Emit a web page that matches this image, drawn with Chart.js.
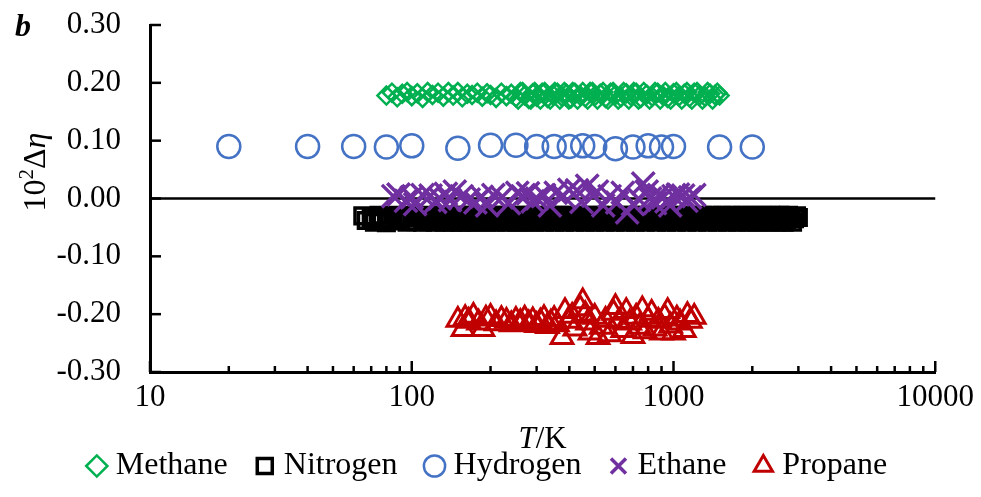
<!DOCTYPE html>
<html>
<head>
<meta charset="utf-8">
<title>Viscosity deviations vs temperature</title>
<script src="https://cdn.jsdelivr.net/npm/chart.js@4.4.1/dist/chart.umd.min.js"></script>
<style>
  html, body { margin: 0; padding: 0; background: #fff; }
  canvas { display: block; }
</style>
</head>
<body>
<canvas id="devChart" width="981" height="497"></canvas>
<script>
// [T/K, 10^2 Δη]
const methane = [
    [80, 0.178], [84, 0.183], [88, 0.175], [92, 0.181], [96, 0.184], [100, 0.177], [105, 0.182], [110, 0.174],
    [115, 0.184], [120, 0.179], [126, 0.183], [132, 0.176], [138, 0.184], [144, 0.178], [150, 0.184], [156, 0.175],
    [163, 0.181], [170, 0.179], [178, 0.183], [186, 0.176], [194, 0.182], [200, 0.179], [210, 0.174], [220, 0.183],
    [230, 0.177], [240, 0.181], [250, 0.175], [255, 0.171], [260, 0.184], [265, 0.184], [270, 0.178], [280, 0.172],
    [285, 0.171], [290, 0.182], [295, 0.184], [300, 0.176], [310, 0.171], [315, 0.183], [322, 0.184], [330, 0.174],
    [338, 0.171], [345, 0.180], [352, 0.184], [360, 0.183], [368, 0.171], [375, 0.176], [383, 0.184], [390, 0.181],
    [398, 0.171], [405, 0.173], [412, 0.184], [420, 0.183], [430, 0.171], [440, 0.178], [450, 0.184], [460, 0.175],
    [470, 0.171], [480, 0.184], [490, 0.184], [500, 0.177], [512, 0.171], [525, 0.181], [538, 0.184], [550, 0.174],
    [562, 0.171], [575, 0.183], [588, 0.184], [600, 0.179], [615, 0.171], [630, 0.175], [645, 0.184], [660, 0.182],
    [675, 0.171], [690, 0.177], [705, 0.184], [720, 0.183], [735, 0.171], [750, 0.174], [770, 0.184], [790, 0.180],
    [810, 0.171], [830, 0.176], [850, 0.184], [870, 0.183], [890, 0.171], [910, 0.178], [930, 0.184], [950, 0.174],
    [975, 0.171], [1000, 0.182], [1025, 0.184], [1050, 0.177], [1075, 0.171], [1100, 0.181], [1125, 0.184], [1150, 0.175],
    [1175, 0.171], [1200, 0.183], [1230, 0.184], [1260, 0.178], [1290, 0.171], [1320, 0.176], [1350, 0.184], [1380, 0.181],
    [1410, 0.171], [1440, 0.179], [1470, 0.183], [1500, 0.178]
];
const nitrogen = [
    [65, -0.030], [67, -0.038], [70, -0.033], [72, -0.041], [75, -0.029], [77, -0.037], [80, -0.042], [82, -0.034],
    [85, -0.029], [88, -0.039], [90, -0.035], [93, -0.030], [96, -0.041], [100, -0.034], [102, -0.029], [104, -0.040],
    [108, -0.031], [110, -0.041], [112, -0.036], [116, -0.040], [118, -0.029], [120, -0.033], [123, -0.041], [125, -0.037],
    [128, -0.029], [130, -0.030], [133, -0.041], [135, -0.039], [138, -0.029], [140, -0.034], [143, -0.041], [145, -0.037],
    [148, -0.029], [150, -0.032], [153, -0.041], [156, -0.040], [159, -0.029], [162, -0.035], [165, -0.041], [168, -0.031],
    [172, -0.029], [175, -0.038], [178, -0.041], [182, -0.034], [186, -0.029], [190, -0.036], [194, -0.041], [198, -0.032],
    [202, -0.029], [206, -0.039], [210, -0.041], [215, -0.034], [220, -0.029], [225, -0.037], [230, -0.041], [235, -0.031],
    [240, -0.029], [245, -0.036], [250, -0.041], [255, -0.040], [260, -0.029], [265, -0.033], [272, -0.041], [280, -0.037],
    [285, -0.029], [290, -0.031], [295, -0.041], [300, -0.035], [308, -0.029], [315, -0.039], [322, -0.041], [330, -0.033],
    [338, -0.029], [345, -0.036], [352, -0.041], [360, -0.031], [368, -0.029], [375, -0.038], [383, -0.041], [390, -0.034],
    [400, -0.029], [410, -0.036], [420, -0.041], [430, -0.032], [440, -0.029], [450, -0.039], [460, -0.041], [470, -0.034],
    [480, -0.029], [490, -0.037], [500, -0.041], [510, -0.031], [522, -0.029], [535, -0.036], [548, -0.041], [560, -0.039],
    [572, -0.029], [585, -0.033], [598, -0.041], [610, -0.036], [625, -0.029], [640, -0.031], [655, -0.041], [670, -0.038],
    [685, -0.029], [700, -0.034], [715, -0.041], [730, -0.036], [745, -0.029], [760, -0.032], [780, -0.041], [800, -0.038],
    [820, -0.029], [840, -0.034], [860, -0.041], [880, -0.036], [900, -0.029], [920, -0.031], [940, -0.041], [960, -0.037],
    [980, -0.029], [1000, -0.034], [1025, -0.041], [1050, -0.036], [1075, -0.029], [1100, -0.032], [1125, -0.041], [1150, -0.038],
    [1175, -0.029], [1200, -0.034], [1230, -0.041], [1260, -0.036], [1290, -0.029], [1320, -0.031], [1350, -0.041], [1380, -0.037],
    [1410, -0.029], [1440, -0.034], [1470, -0.041], [1500, -0.036], [1535, -0.029], [1570, -0.032], [1605, -0.041], [1640, -0.038],
    [1675, -0.029], [1710, -0.034], [1750, -0.041], [1790, -0.036], [1830, -0.029], [1870, -0.032], [1910, -0.041], [1950, -0.037],
    [1990, -0.029], [2030, -0.034], [2075, -0.041], [2120, -0.036], [2165, -0.029], [2210, -0.032], [2255, -0.041], [2300, -0.037],
    [2350, -0.029], [2400, -0.034], [2450, -0.041], [2500, -0.036], [2550, -0.029], [2600, -0.032], [2650, -0.041], [2700, -0.037],
    [2750, -0.029], [2800, -0.034], [2850, -0.041], [2900, -0.035], [2950, -0.030], [3000, -0.033]
];
const hydrogen = [
    [20, 0.090], [40, 0.090], [60, 0.090], [80, 0.089], [100, 0.091], [150, 0.087], [200, 0.092], [250, 0.092],
    [300, 0.090], [350, 0.090], [400, 0.090], [450, 0.091], [500, 0.090], [600, 0.086], [700, 0.089], [800, 0.091],
    [900, 0.089], [1000, 0.090], [1500, 0.089], [2000, 0.089]
];
const ethane = [
    [85, 0.004], [89, 0.007], [95, -0.004], [100, 0.002], [103, -0.010], [110, 0.006], [118, 0.005], [123, -0.006],
    [128, 0.000], [135, 0.008], [140, -0.003], [146, 0.012], [155, 0.004], [165, -0.002], [175, -0.007], [185, 0.003],
    [194, -0.012], [205, 0.006], [221, 0.002], [235, -0.008], [253, 0.010], [265, 0.004], [278, 0.009], [290, -0.005],
    [301, 0.000], [320, 0.006], [337, -0.012], [355, 0.010], [378, 0.005], [400, 0.015], [428, 0.014], [445, -0.006],
    [468, 0.022], [493, 0.005], [510, 0.012], [539, -0.012], [570, 0.004], [609, -0.007], [640, 0.010], [665, -0.024],
    [700, -0.010], [740, -0.002], [766, 0.026], [790, 0.012], [814, 0.000], [850, -0.008], [880, 0.006], [913, 0.002],
    [940, -0.005], [971, -0.012], [1000, 0.004], [1040, 0.007], [1088, 0.005], [1120, -0.004], [1157, 0.002], [1200, 0.006]
];
const propane = [
    [150, -0.210], [157, -0.226], [160, -0.207], [165, -0.212], [172, -0.203], [180, -0.215], [187, -0.226], [192, -0.208],
    [200, -0.205], [210, -0.216], [220, -0.209], [230, -0.212], [240, -0.218], [250, -0.210], [260, -0.214], [270, -0.208],
    [280, -0.216], [290, -0.211], [300, -0.219], [310, -0.213], [320, -0.207], [330, -0.221], [340, -0.215], [350, -0.209],
    [360, -0.218], [375, -0.240], [385, -0.195], [395, -0.212], [410, -0.203], [420, -0.225], [440, -0.190], [450, -0.178],
    [460, -0.200], [470, -0.215], [480, -0.232], [500, -0.205], [515, -0.240], [530, -0.222], [550, -0.210], [570, -0.235],
    [590, -0.198], [600, -0.188], [620, -0.212], [640, -0.228], [660, -0.195], [680, -0.215], [700, -0.238], [720, -0.205],
    [740, -0.222], [760, -0.192], [780, -0.230], [800, -0.210], [825, -0.198], [850, -0.225], [875, -0.212], [900, -0.232],
    [925, -0.205], [950, -0.195], [975, -0.220], [1000, -0.232], [1030, -0.208], [1060, -0.215], [1100, -0.228], [1130, -0.202],
    [1160, -0.212], [1200, -0.205]
];

const seriesNames = ['Methane', 'Nitrogen', 'Hydrogen', 'Ethane', 'Propane'];
const xDecades = [10, 100, 1000, 10000];
const yTickValues = [-0.3, -0.2, -0.1, 0, 0.1, 0.2, 0.3];

const serif = "'Liberation Serif', 'Times New Roman', serif";
Chart.defaults.font.family = serif;
Chart.defaults.font.size = 31;
Chart.defaults.color = '#000';

// marker look per series (Excel style, hollow)
const markerStyles = [
    { color: '#00b050', shape: 'rectRot', radius: 9, width: 2.5 },
    { color: '#000000', shape: 'rect', radius: 11, width: 3.5 },
    { color: '#4472c4', shape: 'circle', radius: 11.5, width: 2.5 },
    { color: '#7030a0', shape: 'crossRot', radius: 16, width: 3.5 },
    { color: '#c00000', shape: 'triangle', radius: 12.5, width: 3 }
];

const seriesData = [methane, nitrogen, hydrogen, ethane, propane];

const datasets = seriesData.map((rows, i) => ({
    label: seriesNames[i],
    data: rows.map(r => ({ x: r[0], y: r[1] })),
    pointStyle: markerStyles[i].shape,
    pointRadius: markerStyles[i].radius,
    pointBorderWidth: markerStyles[i].width,
    pointBorderColor: markerStyles[i].color,
    pointBackgroundColor: 'rgba(0,0,0,0)',
    showLine: false,
    order: seriesData.length - i   // later series on top, like the original
}));

// minor log ticks 1..9 per decade
const xTickValues = [];
xDecades.forEach((d, k) => {
    if (k === xDecades.length - 1) { xTickValues.push(d); return; }
    for (let m = 1; m <= 9; m++) xTickValues.push(d * m);
});

const decorPlugin = {
    id: 'decor',
    beforeDatasetsDraw(chart) {
        const { ctx, chartArea, scales: { y } } = chart;
        const y0 = y.getPixelForValue(0);
        ctx.save();
        ctx.strokeStyle = '#000';
        ctx.lineWidth = 2.5;
        ctx.beginPath();
        ctx.moveTo(chartArea.left, y0);
        ctx.lineTo(chartArea.right, y0);
        ctx.stroke();
        ctx.restore();
    },
    afterDraw(chart) {
        const { ctx, chartArea, scales: { x, y } } = chart;
        ctx.save();
        ctx.strokeStyle = '#000';
        ctx.lineWidth = 2.5;
        // inward tick marks
        x.ticks.forEach(t => {
            const px = x.getPixelForValue(t.value);
            const len = xDecades.includes(t.value) ? 11 : 6;
            ctx.beginPath();
            ctx.moveTo(px, chartArea.bottom);
            ctx.lineTo(px, chartArea.bottom - len);
            ctx.stroke();
        });
        y.ticks.forEach(t => {
            const py = y.getPixelForValue(t.value);
            ctx.beginPath();
            ctx.moveTo(chartArea.left, py);
            ctx.lineTo(chartArea.left + 11, py);
            ctx.stroke();
        });

        ctx.fillStyle = '#000';
        ctx.textBaseline = 'alphabetic';

        // panel letter
        ctx.font = 'italic bold 32px ' + serif;
        ctx.textAlign = 'left';
        ctx.fillText('b', 15, 36);

        // x title: T/K
        const xParts = [['T', 'italic 31px '], ['/K', '31px ']];
        drawParts(ctx, xParts, (chartArea.left + chartArea.right) / 2, 448);

        // y title: 10²Δη, rotated
        ctx.translate(45, 172);
        ctx.rotate(-Math.PI / 2);
        const yParts = [['10', '32px '], ['2', '21px ', -12], ['Δ', '32px '], ['η', 'italic 32px ']];
        drawParts(ctx, yParts, 0, 0);
        ctx.restore();
    }
};

function drawParts(ctx, parts, cx, baseY) {
    let total = 0;
    parts.forEach(p => { ctx.font = p[1] + serif; total += ctx.measureText(p[0]).width; });
    let px = cx - total / 2;
    ctx.textAlign = 'left';
    parts.forEach(p => {
        ctx.font = p[1] + serif;
        ctx.fillText(p[0], px, baseY + (p[2] || 0));
        px += ctx.measureText(p[0]).width;
    });
}

new Chart(document.getElementById('devChart'), {
    type: 'scatter',
    data: { datasets },
    options: {
        responsive: false,
        animation: false,
        events: [],
        layout: { padding: { top: 25, right: 0, left: 0, bottom: 5 } },
        scales: {
            x: {
                type: 'logarithmic',
                min: 10,
                max: 10000,
                afterBuildTicks: scale => { scale.ticks = xTickValues.map(v => ({ value: v })); },
                afterFit: scale => { scale.height = 44; },
                ticks: {
                    autoSkip: false,
                    maxRotation: 0,
                    padding: 7,
                    callback: v => xDecades.includes(v) ? String(v) : ''
                },
                grid: { display: false, drawTicks: false },
                border: { display: true, color: '#000', width: 3 }
            },
            y: {
                min: -0.3,
                max: 0.3,
                afterBuildTicks: scale => { scale.ticks = yTickValues.map(v => ({ value: v })); },
                afterFit: scale => { scale.width = 150; },
                ticks: {
                    padding: 3,
                    callback: v => (Math.abs(v) < 1e-9 ? 0 : v).toFixed(2)
                },
                // invisible tick marks only reserve the gap between labels and axis
                grid: { display: true, drawOnChartArea: false, drawTicks: true, tickLength: 26, color: 'rgba(0,0,0,0)' },
                border: { display: true, color: '#000', width: 3 }
            }
        },
        plugins: {
            legend: {
                position: 'bottom',
                labels: {
                    usePointStyle: true,
                    boxWidth: 6,
                    boxHeight: 15,
                    padding: 34,
                    color: '#000',
                    font: { size: 32 },
                    sort: (a, b) => a.datasetIndex - b.datasetIndex
                }
            },
            tooltip: { enabled: false }
        }
    },
    plugins: [decorPlugin]
});
</script>
</body>
</html>
